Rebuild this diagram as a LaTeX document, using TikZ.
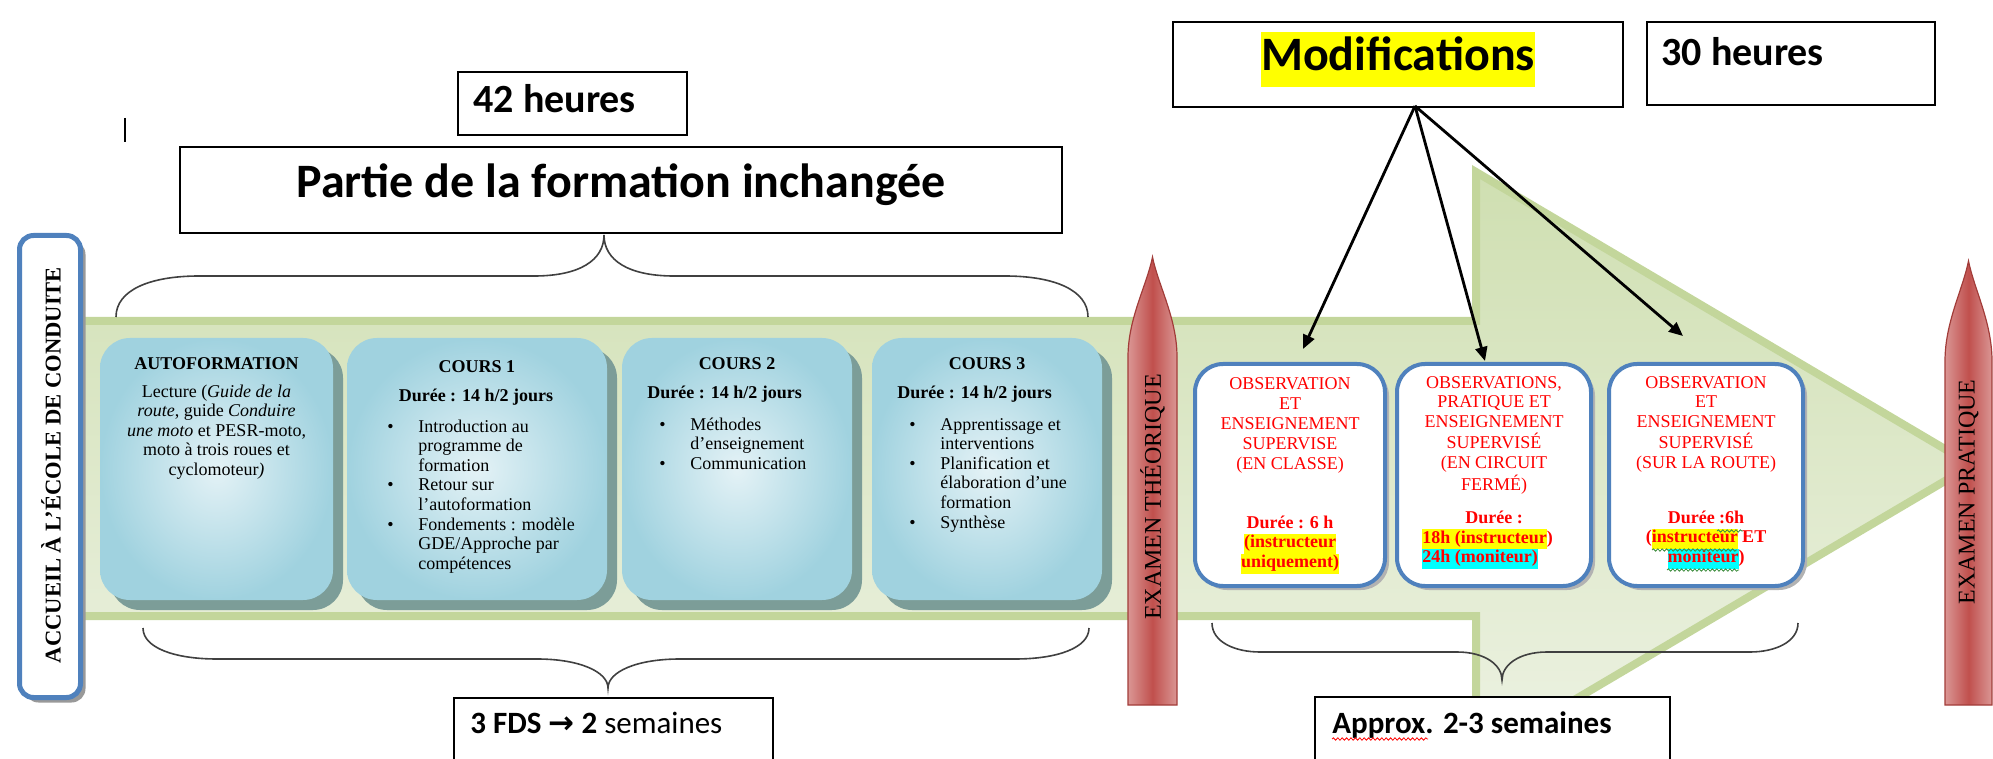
\documentclass[tikz,border=0pt]{standalone}
\usepackage{fontspec}
\setmainfont{Liberation Serif}
\newfontfamily\calibri{Carlito}
\newfontfamily\symb{DejaVu Sans}
\usetikzlibrary{arrows.meta,shadows,decorations.pathmorphing}

\definecolor{bleuCadre}{HTML}{4F81BD}
\definecolor{bleuClair}{HTML}{E4F2F6}
\definecolor{bleuFonce}{HTML}{A0D2DF}
\definecolor{ombreBleu}{HTML}{7C9D98}
\definecolor{vertBord}{HTML}{C3D69B}
\definecolor{vertHaut}{HTML}{CFDFB1}
\definecolor{vertBas}{HTML}{EDF2E3}
\definecolor{rougeClair}{HTML}{DA9694}
\definecolor{rougeFonce}{HTML}{C0504D}
\definecolor{rougeBord}{HTML}{A23C39}
\definecolor{rougeTexte}{HTML}{FF0000}
\definecolor{surJaune}{HTML}{FFFF00}
\definecolor{surCyan}{HTML}{00FFFF}
\definecolor{vertVague}{HTML}{3C8C3C}

\newcommand\puce{\makebox[15.5pt][l]{\textbullet}}
\newcommand\lignes[1]{\begin{tabular}[t]{@{}c@{}}#1\end{tabular}}
\newcommand\liste[1]{\begin{tabular}[t]{@{}l@{}l@{}}#1\end{tabular}}
\newcommand\surligne[2]{{\setlength{\fboxsep}{0pt}\colorbox{#1}{\strut#2}}}

\begin{document}
\begin{tikzpicture}[x=0.5pt,y=-0.5pt,
  cadre/.style={draw=black, line width=0.8pt, fill=white, inner sep=0pt},
  bulle/.style={rounded corners=15pt, inner sep=0pt, minimum height=131pt,
    drop shadow={shadow xshift=5pt, shadow yshift=-5pt, fill=ombreBleu, opacity=1},
    inner color=bleuClair, outer color=bleuFonce},
  blanc/.style={draw=bleuCadre, line width=2pt, fill=white, rounded corners=14pt,
    inner sep=0pt, minimum height=111pt,
    drop shadow={shadow xshift=2pt, shadow yshift=-2pt, fill=black!30, opacity=1}},
  txt/.style={inner sep=0pt, font=\fontsize{9}{9.8}\selectfont},
  titre/.style={inner sep=0pt, font=\fontsize{9}{9.8}\selectfont\bfseries},
  rouge/.style={inner sep=0pt, text=rougeTexte, font=\fontsize{9}{9.9}\selectfont},
  rougegras/.style={rouge, font=\fontsize{9}{9.9}\selectfont\bfseries},
  examen/.style={draw=rougeBord, line width=0.6pt, left color=rougeClair,
    right color=rougeClair, middle color=rougeFonce},
  motexam/.style={inner sep=0pt, rotate=90, font=\fontsize{12}{14}\selectfont},
  calib/.style={inner sep=0pt, font=\calibri\fontsize{20}{24}\selectfont\bfseries},
  accolade/.style={draw=black!75, line width=0.8pt},
  fleche/.style={draw, line width=1.4pt, -{Triangle[length=7pt,width=6pt]}},
  vague/.style={decorate, decoration={snake, amplitude=0.6pt, segment length=2.2pt},
    line width=0.4pt}]
\useasboundingbox (0,0) rectangle (1993,759);

% grande fleche verte
\path[draw=vertBord, line width=4pt, top color=vertHaut, bottom color=vertBas]
  (50,321) -- (1476,321) -- (1476,172) -- (1972,465) -- (1476,758)
  -- (1476,616) -- (50,616) -- cycle;

% accolades
\draw[accolade] (116,317) .. controls (116,290) and (150,276) .. (199,276) -- (534,276)
  .. controls (580,276) and (604,260) .. (604,235)
  .. controls (604,260) and (628,276) .. (674,276) -- (1005,276)
  .. controls (1054,276) and (1088,290) .. (1088,317);
\draw[accolade] (143,628) .. controls (143,648) and (175,659) .. (217,659) -- (537,659)
  .. controls (580,659) and (608,672) .. (608,688)
  .. controls (608,672) and (636,659) .. (680,659) -- (1015,659)
  .. controls (1057,659) and (1089,648) .. (1089,628);
\draw[accolade] (1212,623) .. controls (1212,642) and (1235,652) .. (1260,652) -- (1457,652)
  .. controls (1485,652) and (1502,665) .. (1502,680)
  .. controls (1502,665) and (1519,652) .. (1547,652) -- (1750,652)
  .. controls (1775,652) and (1798,642) .. (1798,623);

% partie inchangee
\node[bulle, minimum width=116.5pt] (auto) at (216.5,469) {};
\node[bulle, minimum width=130pt] (c1) at (477,469) {};
\node[bulle, minimum width=115pt] (c2) at (737,469) {};
\node[bulle, minimum width=115pt] (c3) at (987,469) {};

\node[titre, anchor=base] (tAuto) at (216.5,370) {AUTOFORMATION};
\node[txt, anchor=base] (lAuto) at (216.5,397) {\lignes{Lecture (\textit{Guide de la}\\
  \textit{route}, guide \textit{Conduire}\\\textit{une moto} et PESR-moto,\\
  moto à trois roues et\\cyclomoteur\textit{)}}};

\node[titre, anchor=base] (t1) at (477,372) {COURS 1};
\node[titre, anchor=base] (d1) at (476,401) {Durée : 14 h/2 jours};
\node[txt, anchor=base west] (l1) at (387,432) {\liste{\puce & Introduction au\\
  & programme de\\ & formation\\ \puce & Retour sur\\ & l’autoformation\\
  \puce & Fondements : modèle\\ & GDE/Approche par\\ & compétences}};

\node[titre, anchor=base] (t2) at (737,370) {COURS 2};
\node[titre, anchor=base west] (d2) at (647,399) {Durée : 14 h/2 jours};
\node[txt, anchor=base west] (l2) at (659,430) {\liste{\puce & Méthodes\\
  & d’enseignement\\ \puce & Communication}};

\node[titre, anchor=base] (t3) at (987,370) {COURS 3};
\node[titre, anchor=base west] (d3) at (897,399) {Durée : 14 h/2 jours};
\node[txt, anchor=base west] (l3) at (909,430) {\liste{\puce & Apprentissage et\\
  & interventions\\ \puce & Planification et\\ & élaboration d’une\\
  & formation\\ \puce & Synthèse}};

% partie modifiee
\node[blanc, minimum width=95pt] (obsA) at (1290,475) {};
\node[blanc, minimum width=97pt] (obsB) at (1494,475) {};
\node[blanc, minimum width=97pt] (obsC) at (1706,475) {};

\node[rouge, anchor=base] (oA) at (1290,390) {\lignes{OBSERVATION\\ET\\ENSEIGNEMENT\\
  SUPERVISE\\(EN CLASSE)}};
\node[rougegras, anchor=base] (dA) at (1290,528) {\lignes{Durée : 6 h\\
  \surligne{surJaune}{(instructeur}\\\surligne{surJaune}{uniquement)}}};

\node[rouge, anchor=base] (oB) at (1494,388) {\lignes{OBSERVATIONS,\\PRATIQUE ET\\
  ENSEIGNEMENT\\SUPERVISÉ\\(EN CIRCUIT\\FERMÉ)}};
\node[rougegras, anchor=base] (dB) at (1494,523) {Durée :};
\node[rougegras, anchor=base west] (hB) at (1422,543) {\begin{tabular}[t]{@{}l@{}}
  \surligne{surJaune}{18h (instructeur})\\\surligne{surCyan}{24h (moniteur)}\end{tabular}};

\node[rouge, anchor=base] (oC) at (1706,388) {\lignes{OBSERVATION\\ET\\ENSEIGNEMENT\\
  SUPERVISÉ\\(SUR LA ROUTE)}};
\node[rougegras, anchor=base] (dC) at (1706,523) {\lignes{Durée :6h\\
  (\surligne{surJaune}{instructeur} ET\\\surligne{surCyan}{moniteur})}};
\draw[vague, vertVague] (1717,531) -- (1743,531);
\draw[vague, vertVague] (1652,550) -- (1737,550);
\draw[vague, vertVague] (1667,570) -- (1739,570);

% examens
\path[examen] (1128,705) -- (1128,357) .. controls (1128,318) and (1147,285) .. (1152.5,257)
  .. controls (1158,285) and (1177,318) .. (1177,357) -- (1177,705) -- cycle;
\node[motexam] (exT) at (1152.5,497) {EXAMEN THÉORIQUE};
\path[examen] (1945,705) -- (1945,361) .. controls (1945,322) and (1963,289) .. (1968.5,261)
  .. controls (1974,289) and (1992,322) .. (1992,361) -- (1992,705) -- cycle;
\node[motexam] (exP) at (1968.5,492) {EXAMEN PRATIQUE};

% accueil
\node[draw=bleuCadre, line width=2.5pt, fill=white, rounded corners=7pt,
  minimum width=30.5pt, minimum height=231pt, inner sep=0pt,
  drop shadow={shadow xshift=2.5pt, shadow yshift=-2.5pt, fill=black!40, opacity=1}]
  (accueil) at (50,466.5) {};
\node[inner sep=0pt, rotate=90, font=\fontsize{11.3}{13}\selectfont\bfseries]
  (tAcc) at (51,465) {ACCUEIL À L’ÉCOLE DE CONDUITE};

% cadres de texte
\node[cadre, minimum width=114.5pt, minimum height=31.5pt] (h42) at (572.5,103.5) {};
\node[calib, anchor=base west] (t42) at (473,113) {42 heures};
\draw[line width=1pt] (125,118) -- (125,142);
\node[cadre, minimum width=441pt, minimum height=43pt] (partie) at (621,190) {};
\node[calib, anchor=base, font=\calibri\fontsize{24}{28}\selectfont\bfseries]
  (tPartie) at (621,198) {Partie de la formation inchangée};
\node[cadre, minimum width=225pt, minimum height=42.5pt] (modif) at (1398,64.5) {};
\node[calib, anchor=base, font=\calibri\fontsize{24}{27.5}\selectfont\bfseries]
  (tModif) at (1398,71) {\surligne{surJaune}{Modifications}};
\node[cadre, minimum width=144pt, minimum height=41.5pt] (h30) at (1791,63.5) {};
\node[calib, anchor=base west] (t30) at (1661,66) {30 heures};
\node[cadre, minimum width=159.5pt, minimum height=51pt] (fds) at (613.5,749) {};
\node[calib, anchor=base west, font=\calibri\fontsize{15.5}{18}\selectfont]
  (tFds) at (470,733) {\textbf{3 FDS {\symb\bfseries →} 2} semaines};
\node[cadre, minimum width=177.5pt, minimum height=51.5pt] (approx) at (1492.5,748.5) {};
\node[calib, anchor=base west, font=\calibri\fontsize{15.5}{18}\selectfont\bfseries]
  (tApprox) at (1332,733) {Approx. 2-3 semaines};
\draw[vague, red] (1332,739) -- (1428,739);

% fleches des modifications
\coordinate (depart) at (1415,106);
\coordinate (pA) at (1303,349);
\coordinate (pB) at (1485,361);
\coordinate (pC) at (1683,336);
\draw[fleche] (depart) -- (pA);
\draw[fleche] (depart) -- (pB);
\draw[fleche] (depart) -- (pC);
\end{tikzpicture}
\end{document}
